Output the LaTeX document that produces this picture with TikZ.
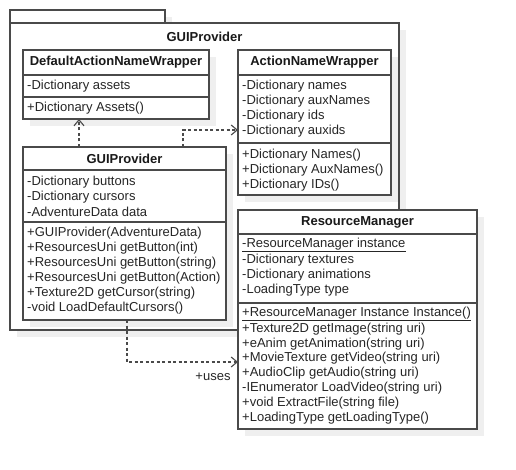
\documentclass[tikz,border=0pt]{standalone}
\usepackage{fontspec}
\setmainfont{Liberation Sans}
\usetikzlibrary{arrows.meta,calc}
\definecolor{bord}{HTML}{4A4A4A}
\definecolor{shad}{HTML}{EFEFEF}
\begin{document}
\begin{tikzpicture}[x=1pt,y=-1pt,
  font=\fontsize{13}{15}\selectfont,
  box/.style={draw=bord, line width=1.3pt, fill=white, anchor=north west, inner sep=0, outer sep=0},
  sep/.style={draw=bord, line width=1.3pt},
  ln/.style={anchor=west, inner sep=0, text=black!85},
  hd/.style={inner sep=0, font=\fontsize{13}{15}\selectfont\bfseries, text=black!90},
  dep/.style={draw=bord, line width=1.3pt, dash pattern=on 3pt off 2.5pt, -{Straight Barb[length=6pt,width=10pt,line width=1.1pt]}}]
\useasboundingbox (0,0) rectangle (516,470);
% package shadow
\fill[shad] (17,17) rectangle (172,30);
\fill[shad] (17,30) rectangle (406,337);
% package
\node[box, minimum width=155pt, minimum height=13pt] (tab) at (10,10) {};
\node[box, minimum width=389pt, minimum height=307pt] (pkg) at (10,23) {};
\node[hd] (pkglbl) at (204.5,37) {GUIProvider};
% DefaultActionNameWrapper
\fill[shad] (30,57) rectangle (216,126);
\node[box, minimum width=186pt, minimum height=69pt] (dan) at (23,50) {};
\draw[sep] (23,75) -- (209,75) (23,97) -- (209,97);
\node[hd] (danh) at (116,62.5) {DefaultActionNameWrapper};
\node[ln] (dan1) at (27,86) {-Dictionary assets};
\node[ln] (dan2) at (27,108) {+Dictionary Assets()};
% ActionNameWrapper
\fill[shad] (245,57) rectangle (398,202);
\node[box, minimum width=153pt, minimum height=145pt] (anw) at (238,50) {};
\draw[sep] (238,75) -- (391,75) (238,143) -- (391,143);
\node[hd] (anwh) at (314.5,62.5) {ActionNameWrapper};
\node[ln] (anw1) at (242,86) {-Dictionary names};
\node[ln] (anw2) at (242,101) {-Dictionary auxNames};
\node[ln] (anw3) at (242,116) {-Dictionary ids};
\node[ln] (anw4) at (242,131) {-Dictionary auxids};
\node[ln] (anw5) at (242,155) {+Dictionary Names()};
\node[ln] (anw6) at (242,170) {+Dictionary AuxNames()};
\node[ln] (anw7) at (242,185) {+Dictionary IDs()};
% GUIProvider class
\fill[shad] (30,154) rectangle (233,327);
\node[box, minimum width=203pt, minimum height=173pt] (gui) at (23,147) {};
\draw[sep] (23,170) -- (226,170) (23,222) -- (226,222);
\node[hd] (guih) at (124.5,158.5) {GUIProvider};
\node[ln] (gui1) at (27,182) {-Dictionary buttons};
\node[ln] (gui2) at (27,197) {-Dictionary cursors};
\node[ln] (gui3) at (27,211.5) {-AdventureData data};
\node[ln] (gui4) at (27,233.5) {+GUIProvider(AdventureData)};
\node[ln] (gui5) at (27,248.5) {+ResourcesUni getButton(int)};
\node[ln] (gui6) at (27,263.5) {+ResourcesUni getButton(string)};
\node[ln] (gui7) at (27,278.5) {+ResourcesUni getButton(Action)};
\node[ln] (gui8) at (27,293.5) {+Texture2D getCursor(string)};
\node[ln] (gui9) at (27,308) {-void LoadDefaultCursors()};
% ResourceManager
\fill[shad] (245,217) rectangle (484,436);
\node[box, minimum width=239pt, minimum height=219pt] (rm) at (238,210) {};
\draw[sep] (238,234) -- (477,234) (238,303) -- (477,303);
\node[hd] (rmh) at (357.5,222) {ResourceManager};
\node[ln] (rm1) at (242,245) {\underline{-ResourceManager instance}};
\node[ln] (rm2) at (242,260.5) {-Dictionary textures};
\node[ln] (rm3) at (242,275.5) {-Dictionary animations};
\node[ln] (rm4) at (242,290.5) {-LoadingType type};
\node[ln] (rm5) at (242,314) {\underline{+ResourceManager Instance Instance()}};
\node[ln] (rm6) at (242,329) {+Texture2D getImage(string uri)};
\node[ln] (rm7) at (242,344) {+eAnim getAnimation(string uri)};
\node[ln] (rm8) at (242,358.5) {+MovieTexture getVideo(string uri)};
\node[ln] (rm9) at (242,373.5) {+AudioClip getAudio(string uri)};
\node[ln] (rm10) at (242,388.5) {-IEnumerator LoadVideo(string uri)};
\node[ln] (rm11) at (242,403) {+void ExtractFile(string file)};
\node[ln] (rm12) at (242,418) {+LoadingType getLoadingType()};
% dependencies
\draw[dep] ($(gui.north west)+(56,0)$) -- ($(dan.south west)+(56,0)$);
\draw[dep] ($(gui.north west)+(160,0)$) |- ($(anw.north west)+(0,80)$);
\draw[dep] ($(gui.south west)+(104,0)$) |- ($(rm.north west)+(0,152)$);
\node[inner sep=0, text=black!85] (uses) at (213,377) {+uses};
\end{tikzpicture}
\end{document}
